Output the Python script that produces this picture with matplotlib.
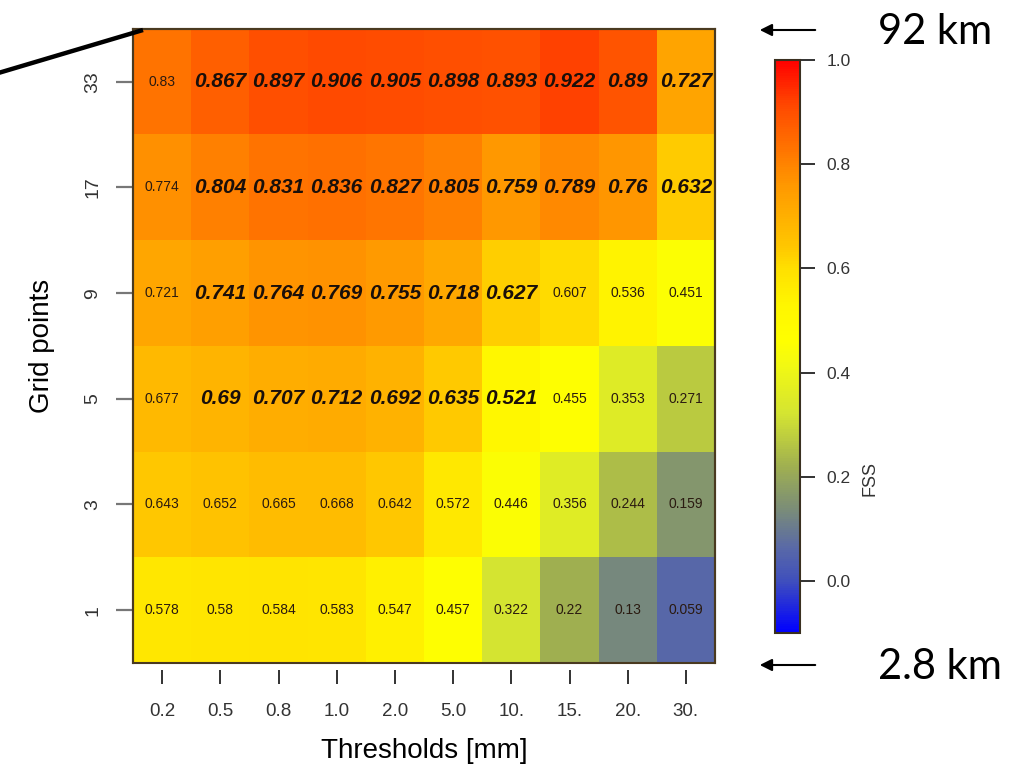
import numpy as np
import matplotlib
matplotlib.use("Agg")
import matplotlib.pyplot as plt
from matplotlib.colors import LinearSegmentedColormap
from matplotlib.lines import Line2D
from matplotlib.patches import Rectangle, FancyArrowPatch

#### Data ####
thresholds = ['0.2', '0.5', '0.8', '1.0', '2.0', '5.0', '10.', '15.', '20.', '30.']
grid_points = ['1', '3', '5', '9', '17', '33']   # bottom to top

fss_1  = [0.578, 0.58, 0.584, 0.583, 0.547, 0.457, 0.322, 0.22, 0.13, 0.059]
fss_3  = [0.643, 0.652, 0.665, 0.668, 0.642, 0.572, 0.446, 0.356, 0.244, 0.159]
fss_5  = [0.677, 0.69, 0.707, 0.712, 0.692, 0.635, 0.521, 0.455, 0.353, 0.271]
fss_9  = [0.721, 0.741, 0.764, 0.769, 0.755, 0.718, 0.627, 0.607, 0.536, 0.451]
fss_17 = [0.774, 0.804, 0.831, 0.836, 0.827, 0.805, 0.759, 0.789, 0.76, 0.632]
fss_33 = [0.83, 0.867, 0.897, 0.906, 0.905, 0.898, 0.893, 0.922, 0.89, 0.727]

# cells printed in bold italic (useful skill)
useful_1  = [0, 0, 0, 0, 0, 0, 0, 0, 0, 0]
useful_3  = [0, 0, 0, 0, 0, 0, 0, 0, 0, 0]
useful_5  = [0, 1, 1, 1, 1, 1, 1, 0, 0, 0]
useful_9  = [0, 1, 1, 1, 1, 1, 1, 0, 0, 0]
useful_17 = [0, 1, 1, 1, 1, 1, 1, 1, 1, 1]
useful_33 = [0, 1, 1, 1, 1, 1, 1, 1, 1, 1]

fss = np.array([fss_1, fss_3, fss_5, fss_9, fss_17, fss_33])
useful = np.array([useful_1, useful_3, useful_5, useful_9, useful_17, useful_33])

vmin, vmax = -0.1, 1.0

#### Colour map (blue - grey - yellow - orange - red) ####
nodes = [(-0.1, '#0000ff'), (0.0, '#4050bc'), (0.06, '#5868a8'), (0.14, '#7c8e76'),
         (0.22, '#a0b050'), (0.32, '#d4e432'), (0.42, '#f4fa10'), (0.46, '#ffff00'),
         (0.53, '#fff600'), (0.6, '#ffe000'), (0.64, '#ffc800'), (0.68, '#ffb800'),
         (0.72, '#ffa800'), (0.76, '#ff9800'), (0.8, '#ff8400'), (0.83, '#ff7400'),
         (0.87, '#ff6000'), (0.9, '#ff5000'), (0.92, '#ff4400'), (1.0, '#ff0000')]
cmap = LinearSegmentedColormap.from_list(
    'fss', [((v - vmin) / (vmax - vmin), c) for v, c in nodes])

plt.rcParams['font.family'] = ['Liberation Sans', 'DejaVu Sans']

W, H = 1014, 774
fig = plt.figure(figsize=(W / 100, H / 100), dpi=100)
ax = fig.add_axes([133 / W, 1 - 663 / H, 582 / W, 634 / H])

# R style: x ticks detached from the box (set before the ticks, it resets them)
ax.spines['bottom'].set_position(('outward', 5))
ax.spines['bottom'].set_color('none')
for s in ['left', 'right', 'top']:
    ax.spines[s].set_color('#4a3a20')
    ax.spines[s].set_linewidth(1.5)

im = ax.imshow(fss, origin='lower', cmap=cmap, vmin=vmin, vmax=vmax,
               aspect='auto', interpolation='nearest')
ax.add_patch(Rectangle((0, 0), 1, 1, transform=ax.transAxes, fill=False,
                       edgecolor='#4a3a20', linewidth=1.5, clip_on=False, zorder=5))

ny, nx = fss.shape
for j in range(ny):
    for i in range(nx):
        txt = '%g' % fss[j, i]
        if useful[j, i]:
            ax.text(i, j, txt, ha='center', va='center', fontsize=15,
                    fontweight='bold', fontstyle='italic', color='#1a0f0a')
        else:
            ax.text(i, j, txt, ha='center', va='center', fontsize=10,
                    color='#2a1a10')

ax.set_xticks(range(nx))
ax.set_xticklabels(thresholds)
ax.set_yticks(range(ny))
ax.set_yticklabels(grid_points, rotation=90, va='center')
ax.tick_params(axis='x', length=10, width=1.3, color='#222222', pad=14,
               labelsize=13.5, labelcolor='#333333')
ax.tick_params(axis='y', length=12, width=1.6, color='#777777', pad=11,
               labelsize=14, labelcolor='#333333')

ax.set_xlabel('Thresholds [mm]', fontsize=20, labelpad=13)
ax.set_ylabel('Grid points', fontsize=20, labelpad=21)

#### Colour bar ####
cax = fig.add_axes([775 / W, 1 - 633 / H, 25 / W, 573 / H])
cb = fig.colorbar(im, cax=cax, ticks=[0.0, 0.2, 0.4, 0.6, 0.8, 1.0], format='%.1f')
cb.outline.set_edgecolor('#3a3020')
cb.outline.set_linewidth(1.5)
cax.tick_params(length=11, width=1.3, color='#222222', labelsize=12.5,
                labelcolor='#333333', pad=8)
cax.text(3.8, 0.27, 'FSS', rotation=90, ha='center', va='center', fontsize=13,
         color='#333333', transform=cax.transAxes)

#### Annotations ####
fig.add_artist(Line2D([-5 / W, 143 / W], [1 - 74 / H, 1 - 30 / H],
                      transform=fig.transFigure, color='black', linewidth=3.2,
                      solid_capstyle='butt'))

for ypix, label in [(30, '92 km'), (665, '2.8 km')]:
    fig.add_artist(FancyArrowPatch(
        (818 / W, 1 - ypix / H), (757 / W, 1 - ypix / H),
        transform=fig.transFigure, arrowstyle='-|>', mutation_scale=18,
        color='black', linewidth=1.5))
    fig.text(878 / W, 1 - (ypix + 2) / H, label, fontsize=30,
             family=['Lato', 'DejaVu Sans'], ha='left', va='center')

fig.savefig('out.png', dpi=100)
